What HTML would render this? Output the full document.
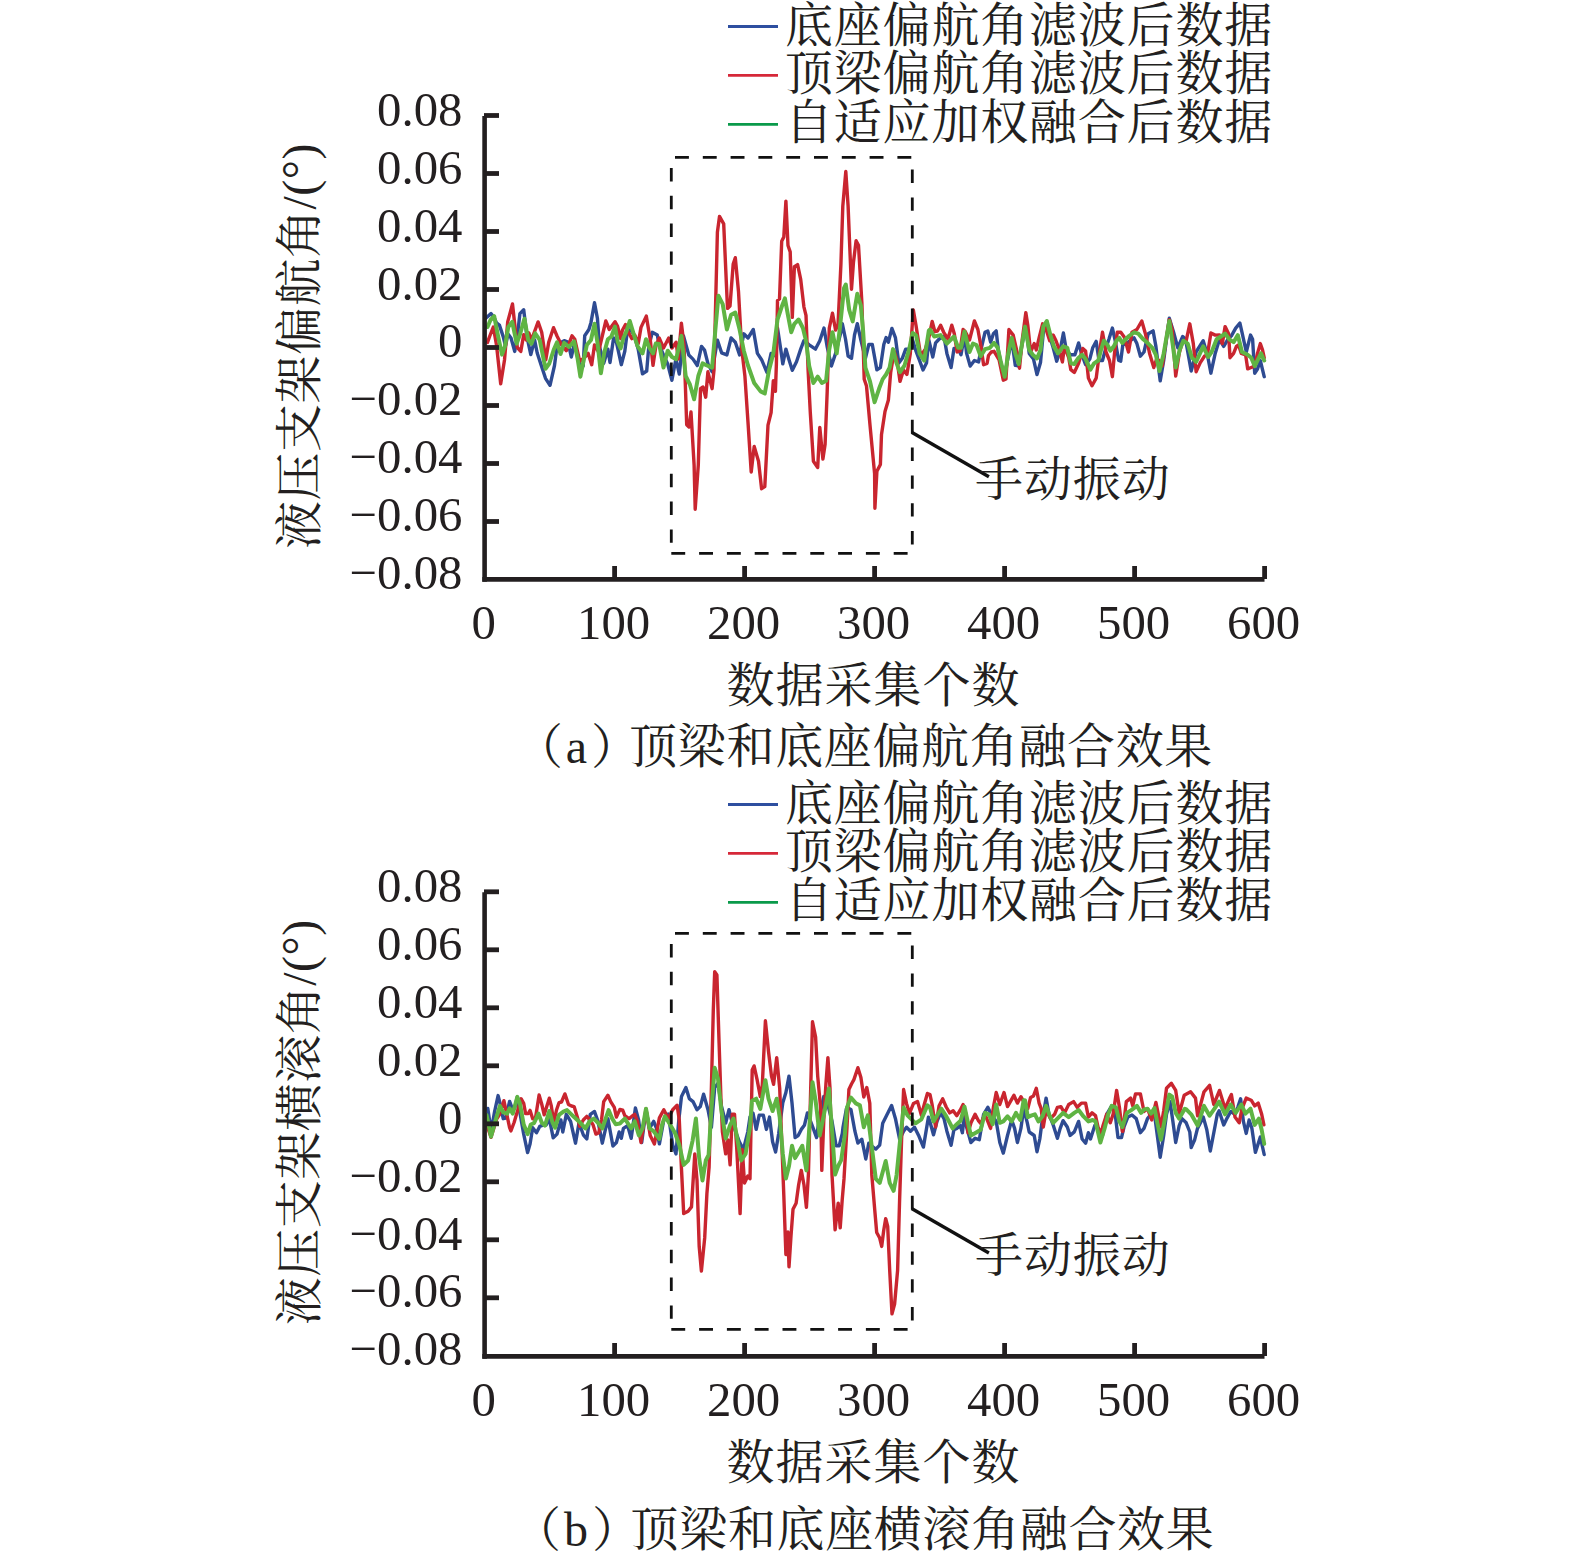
<!DOCTYPE html>
<html><head><meta charset="utf-8"><style>
html,body{margin:0;padding:0;background:#fff;overflow:hidden}
svg{display:block}
.num{font-family:"Liberation Serif", "Noto Serif CJK SC", serif;font-size:48.8px;fill:#231f20}
.cjk{font-family:"Liberation Serif", "Noto Serif CJK SC", serif;font-size:48px;fill:#231f20}
</style></head><body>
<svg width="1575" height="1561" viewBox="0 0 1575 1561">
<rect width="1575" height="1561" fill="#fff"/>
<path d="M486.0 318.0 L491.0 313.6 L494.3 318.0 L496.5 323.0 L499.4 325.1 L503.2 336.6 L505.5 346.0 L508.0 334.0 L511.0 338.0 L514.7 351.4 L517.5 335.0 L519.9 313.6 L523.7 309.7 L527.0 337.0 L530.8 354.6 L534.6 339.8 L537.2 353.0 L541.6 366.4 L545.5 378.3 L550.0 385.3 L554.5 365.5 L556.4 350.7 L560.0 343.0 L564.2 340.7 L568.0 342.0 L571.3 357.0 L574.1 345.0 L577.0 352.0 L580.4 368.0 L583.2 366.0 L584.7 335.8 L588.9 329.5 L591.0 322.4 L594.5 302.7 L597.4 318.2 L599.5 346.4 L603.7 363.3 L607.9 349.2 L610.0 362.6 L613.6 337.9 L616.4 342.2 L621.3 364.7 L624.8 351.3 L627.0 333.7 L630.5 329.5 L634.2 335.1 L638.2 349.2 L642.5 373.9 L646.7 371.0 L648.8 346.4 L652.3 332.3 L657.3 335.1 L659.2 345.0 L663.5 354.9 L667.7 364.0 L671.9 380.3 L675.9 359.0 L679.3 374.0 L683.5 335.9 L688.8 355.0 L693.0 359.1 L697.3 365.5 L701.5 346.4 L704.5 350.0 L707.9 363.4 L712.1 371.8 L717.4 340.1 L721.6 352.8 L726.9 354.9 L731.1 338.0 L735.3 342.2 L739.6 354.9 L743.8 333.8 L748.0 338.0 L753.3 329.5 L757.4 353.4 L761.6 359.7 L766.9 372.4 L771.1 353.4 L774.3 355.5 L777.5 328.0 L780.7 349.1 L782.8 363.9 L785.9 349.1 L789.0 359.7 L792.3 370.3 L796.5 361.8 L800.7 349.1 L803.9 340.7 L809.2 344.9 L815.5 349.1 L819.8 340.7 L824.0 328.0 L827.2 347.0 L831.4 366.0 L835.6 353.4 L840.9 332.2 L842.3 323.7 L845.5 339.0 L848.1 356.0 L851.5 358.3 L854.5 335.0 L857.3 323.7 L860.8 339.9 L865.4 358.3 L868.8 344.5 L872.3 344.5 L876.9 369.9 L880.4 367.6 L883.8 344.5 L886.1 337.6 L888.4 342.2 L891.9 328.4 L895.4 337.6 L898.8 363.0 L902.3 358.3 L905.7 349.1 L909.2 349.1 L912.6 339.9 L916.1 351.4 L919.6 360.6 L923.0 369.9 L926.5 363.0 L928.8 339.9 L930.0 345.0 L932.8 357.0 L935.6 342.9 L939.2 339.0 L944.0 336.5 L946.9 353.4 L951.1 367.5 L954.0 348.5 L958.2 348.5 L961.0 354.8 L964.5 335.1 L966.6 353.4 L970.2 366.1 L974.4 360.5 L978.6 361.9 L981.4 347.8 L985.0 332.3 L987.8 330.9 L990.6 342.2 L993.4 333.7 L996.2 330.9 L998.4 350.6 L1004.0 378.1 L1007.5 360.5 L1011.7 339.3 L1015.3 365.4 L1018.8 366.0 L1021.6 346.4 L1025.8 326.6 L1029.2 353.4 L1033.5 359.1 L1037.0 374.6 L1040.5 362.6 L1043.3 332.3 L1046.8 321.7 L1049.7 336.5 L1053.2 347.8 L1056.7 361.2 L1060.2 349.9 L1063.4 333.0 L1065.9 347.8 L1070.1 354.8 L1074.9 354.8 L1078.6 342.9 L1081.4 353.4 L1085.6 364.7 L1089.8 359.1 L1092.7 347.8 L1096.2 341.4 L1099.0 360.5 L1102.5 360.5 L1105.3 349.9 L1108.9 339.3 L1112.4 328.1 L1115.2 340.7 L1118.7 360.5 L1120.7 361.2 L1122.8 345.0 L1127.0 343.0 L1134.1 337.9 L1136.9 343.6 L1140.4 356.2 L1144.0 352.0 L1148.2 333.7 L1153.1 330.9 L1155.9 346.4 L1160.2 380.9 L1163.7 360.5 L1169.3 318.2 L1173.6 332.3 L1177.8 347.8 L1182.7 336.5 L1185.5 339.3 L1191.2 371.0 L1196.1 352.0 L1203.2 340.7 L1207.4 354.8 L1210.9 373.2 L1215.2 353.4 L1219.5 339.3 L1223.7 346.4 L1227.9 339.3 L1231.4 335.8 L1235.7 328.1 L1239.9 323.1 L1242.0 332.3 L1246.3 352.0 L1250.5 335.1 L1252.6 339.3 L1254.7 373.2 L1257.5 369.0 L1260.3 360.5 L1264.2 376.7" stroke="#2e4b92" stroke-width="3.4" fill="none" stroke-linejoin="round" stroke-linecap="round"/>
<path d="M487.5 342.4 L489.8 336.0 L493.3 327.0 L496.5 345.0 L500.7 383.7 L504.5 360.0 L507.7 321.9 L512.5 304.0 L517.3 347.5 L520.8 351.4 L523.7 334.7 L526.3 340.0 L528.8 332.8 L531.5 340.0 L538.1 321.9 L541.7 332.2 L545.8 359.7 L548.7 342.4 L553.5 327.7 L557.0 336.0 L560.9 343.7 L566.3 350.6 L572.0 335.8 L574.8 339.3 L579.7 361.2 L584.0 358.0 L588.2 353.4 L591.7 364.7 L594.5 345.0 L598.5 352.0 L605.8 321.0 L609.3 329.5 L615.0 321.7 L617.5 326.0 L620.6 338.6 L622.5 330.0 L625.5 324.5 L628.4 332.3 L631.9 338.6 L634.7 335.0 L638.2 343.6 L641.0 327.4 L646.3 316.1 L650.2 339.3 L653.0 365.4 L655.8 346.4 L659.2 338.0 L663.5 348.0 L668.7 338.0 L672.0 348.0 L676.1 342.2 L678.3 359.0 L681.4 323.2 L684.0 345.0 L686.7 424.7 L689.0 427.0 L691.0 412.0 L694.1 464.8 L695.2 509.2 L698.3 464.8 L700.5 388.7 L703.0 387.0 L705.7 397.2 L707.9 371.8 L712.1 388.7 L714.0 370.0 L717.4 232.3 L719.5 216.4 L723.7 223.8 L727.5 308.4 L730.0 306.0 L733.2 264.0 L735.3 257.7 L738.5 291.5 L741.7 348.6 L744.9 376.0 L748.0 422.4 L751.2 472.0 L754.2 446.4 L758.5 461.2 L761.6 488.7 L764.8 486.6 L768.0 425.2 L771.1 412.6 L773.3 380.8 L775.4 391.4 L776.4 363.9 L777.5 300.5 L779.5 299.0 L781.7 241.3 L783.8 237.0 L785.9 201.1 L788.0 245.5 L790.2 251.9 L792.3 317.4 L794.4 266.7 L797.6 264.6 L800.7 279.4 L803.9 306.8 L806.0 315.3 L808.1 370.3 L810.3 412.6 L813.4 461.2 L817.7 467.5 L819.8 427.4 L822.9 459.1 L825.1 444.3 L827.2 391.4 L829.3 328.0 L832.5 313.2 L835.6 330.1 L838.0 325.0 L840.9 264.6 L842.8 206.1 L845.8 171.5 L848.1 206.1 L851.5 289.2 L853.5 262.0 L856.1 240.7 L858.5 245.3 L861.9 303.0 L864.2 379.1 L866.5 386.0 L870.0 425.2 L874.6 473.7 L874.9 508.2 L876.9 471.3 L880.4 464.4 L881.5 434.4 L885.0 411.4 L888.4 399.9 L890.7 372.2 L894.2 351.4 L897.0 360.0 L900.0 381.4 L903.5 370.0 L906.9 374.5 L910.3 353.7 L913.3 309.9 L916.1 326.0 L920.7 356.0 L925.3 349.1 L928.8 338.0 L932.2 321.4 L934.9 331.6 L937.5 331.0 L940.6 325.2 L943.7 332.3 L948.0 339.0 L951.8 325.2 L954.3 333.7 L957.1 352.0 L960.0 351.0 L963.1 329.5 L965.2 331.5 L969.5 340.0 L974.4 321.0 L977.9 329.5 L980.7 345.0 L983.6 364.7 L987.1 363.3 L988.5 355.5 L991.3 352.0 L994.1 351.3 L999.1 359.8 L1003.3 380.2 L1006.0 379.0 L1008.9 329.5 L1013.2 335.1 L1017.4 353.4 L1019.5 368.2 L1022.3 339.3 L1025.8 312.6 L1027.8 325.2 L1030.6 352.0 L1034.2 343.6 L1036.3 349.9 L1039.1 337.9 L1042.6 323.8 L1046.1 329.5 L1049.7 340.7 L1053.2 335.1 L1056.0 340.7 L1058.8 348.5 L1062.4 361.9 L1064.5 346.4 L1068.7 357.7 L1070.8 369.6 L1074.3 372.5 L1078.6 363.3 L1082.8 348.5 L1085.6 351.0 L1088.4 378.1 L1092.0 385.8 L1096.2 378.1 L1099.7 350.6 L1102.5 332.3 L1106.0 352.0 L1109.5 360.5 L1112.4 376.7 L1114.5 353.4 L1117.3 332.3 L1120.8 332.3 L1124.2 337.0 L1128.5 352.0 L1132.0 332.3 L1136.9 329.5 L1141.8 321.0 L1145.4 333.7 L1149.6 353.4 L1153.8 367.5 L1156.6 359.0 L1160.2 361.2 L1162.3 366.0 L1165.1 346.4 L1169.3 319.6 L1172.2 329.5 L1175.7 376.0 L1179.2 353.4 L1182.0 343.6 L1186.2 340.7 L1189.8 323.8 L1193.3 343.6 L1196.1 371.7 L1200.3 362.6 L1204.6 356.0 L1207.4 354.8 L1210.9 333.0 L1215.2 335.1 L1219.5 335.0 L1222.3 343.6 L1225.1 326.6 L1228.6 333.7 L1230.0 357.7 L1233.6 353.4 L1236.4 346.4 L1238.5 345.0 L1241.3 353.4 L1245.6 354.8 L1247.7 368.9 L1251.2 367.5 L1254.7 366.1 L1257.5 353.4 L1260.3 343.6 L1262.5 349.9 L1264.2 357.7" stroke="#c9252f" stroke-width="3.4" fill="none" stroke-linejoin="round" stroke-linecap="round"/>
<path d="M487.5 327.0 L490.5 320.0 L494.2 316.1 L497.5 333.4 L502.0 354.6 L505.0 346.2 L508.3 327.0 L512.2 321.9 L516.7 343.7 L519.9 334.7 L524.4 318.7 L528.2 339.8 L531.4 343.7 L535.2 333.4 L539.7 339.8 L545.5 368.7 L549.3 363.5 L553.8 349.5 L557.0 342.4 L560.5 354.0 L564.2 342.9 L569.0 347.0 L574.1 341.4 L577.5 358.0 L580.4 376.7 L583.5 361.0 L586.8 345.0 L591.0 340.0 L594.5 323.8 L597.5 343.0 L600.9 373.2 L604.4 352.0 L607.9 339.3 L611.4 336.5 L615.0 326.6 L617.8 342.0 L620.6 348.5 L623.4 338.0 L626.3 331.6 L629.8 321.0 L634.0 335.1 L637.5 346.0 L642.5 353.4 L646.0 339.3 L649.5 348.0 L653.0 353.4 L655.8 343.6 L659.2 344.0 L663.5 367.6 L667.7 350.7 L672.0 357.0 L676.1 359.1 L681.4 335.9 L685.7 376.0 L689.9 384.5 L694.1 399.3 L698.3 376.0 L702.6 363.4 L707.0 365.5 L712.1 367.6 L715.3 330.7 L718.4 295.7 L722.7 304.2 L726.9 329.5 L731.1 314.7 L735.3 312.6 L739.6 329.5 L743.8 350.7 L748.0 365.5 L754.2 383.0 L760.6 391.4 L764.8 393.5 L769.0 370.3 L773.3 353.4 L777.5 319.5 L781.7 306.8 L784.9 298.4 L788.0 315.3 L791.2 332.2 L794.4 323.8 L798.6 319.5 L802.9 328.0 L806.0 340.7 L809.2 366.0 L813.4 383.0 L817.7 376.6 L821.9 383.0 L826.1 380.8 L829.3 349.1 L832.5 332.2 L836.7 353.4 L839.9 328.0 L844.1 287.8 L845.8 284.5 L849.2 309.9 L852.7 321.4 L857.3 293.8 L860.8 305.3 L863.1 330.7 L865.4 367.6 L870.0 381.4 L874.6 402.2 L879.2 388.3 L882.7 379.1 L886.1 374.5 L889.6 367.6 L893.0 349.1 L896.5 363.0 L900.0 372.2 L904.6 365.3 L909.2 349.1 L912.6 333.0 L916.1 335.3 L919.6 353.7 L924.2 360.6 L928.8 330.7 L930.0 329.5 L934.2 336.5 L940.6 335.1 L946.9 343.6 L954.0 336.5 L958.2 347.8 L961.0 347.8 L964.5 331.6 L969.5 352.0 L973.0 343.6 L976.5 345.0 L980.7 356.2 L985.0 349.2 L989.9 347.8 L994.1 342.9 L997.7 347.8 L1000.5 360.5 L1004.7 376.7 L1008.2 353.4 L1011.7 337.9 L1015.3 353.4 L1018.8 364.0 L1021.6 346.4 L1025.1 326.6 L1029.2 349.9 L1032.8 354.8 L1037.0 358.4 L1040.5 349.9 L1043.3 326.6 L1046.8 321.0 L1050.4 335.1 L1053.9 346.4 L1058.1 353.4 L1063.1 346.4 L1067.3 347.8 L1070.8 363.3 L1074.3 364.0 L1078.6 357.7 L1082.1 354.8 L1085.6 359.1 L1090.5 369.6 L1094.1 363.3 L1098.3 360.5 L1101.0 350.0 L1103.9 340.7 L1107.5 345.0 L1110.3 350.6 L1113.8 346.4 L1116.6 340.7 L1119.4 337.9 L1122.3 342.9 L1124.2 340.7 L1129.0 336.0 L1134.1 332.3 L1138.3 333.7 L1143.3 339.3 L1148.2 343.6 L1152.4 347.8 L1155.9 355.0 L1159.5 371.0 L1163.7 353.4 L1169.3 321.0 L1172.5 343.0 L1175.7 367.5 L1179.6 350.0 L1183.4 340.7 L1187.7 343.6 L1191.9 357.7 L1196.1 361.9 L1200.0 353.4 L1203.2 346.4 L1208.1 357.0 L1211.6 352.0 L1216.6 339.3 L1220.9 336.5 L1225.1 333.7 L1229.3 339.3 L1233.6 342.2 L1237.8 335.1 L1242.0 352.0 L1247.7 354.8 L1251.2 357.7 L1254.7 366.1 L1257.5 360.5 L1261.0 353.4 L1264.2 360.5" stroke="#5fb443" stroke-width="4.0" fill="none" stroke-linejoin="round" stroke-linecap="round"/>
<path d="M484.6 116 V581.7" stroke="#231f20" stroke-width="4.6" fill="none"/>
<path d="M482.3 579.35 H1264.5" stroke="#231f20" stroke-width="4.6" fill="none"/>
<path d="M484 115.50 H499" stroke="#231f20" stroke-width="4.8"/>
<path d="M484 173.50 H499" stroke="#231f20" stroke-width="4.8"/>
<path d="M484 231.50 H499" stroke="#231f20" stroke-width="4.8"/>
<path d="M484 289.50 H499" stroke="#231f20" stroke-width="4.8"/>
<path d="M484 347.50 H499" stroke="#231f20" stroke-width="4.8"/>
<path d="M484 405.50 H499" stroke="#231f20" stroke-width="4.8"/>
<path d="M484 463.50 H499" stroke="#231f20" stroke-width="4.8"/>
<path d="M484 521.50 H499" stroke="#231f20" stroke-width="4.8"/>
<path d="M614.60 579 V566" stroke="#231f20" stroke-width="4.8"/>
<path d="M744.60 579 V566" stroke="#231f20" stroke-width="4.8"/>
<path d="M874.60 579 V566" stroke="#231f20" stroke-width="4.8"/>
<path d="M1004.60 579 V566" stroke="#231f20" stroke-width="4.8"/>
<path d="M1134.60 579 V566" stroke="#231f20" stroke-width="4.8"/>
<path d="M1264.60 579 V566" stroke="#231f20" stroke-width="4.8"/>
<text x="462.5" y="125.80" text-anchor="end" class="num">0.08</text>
<text x="462.5" y="183.70" text-anchor="end" class="num">0.06</text>
<text x="462.5" y="241.60" text-anchor="end" class="num">0.04</text>
<text x="462.5" y="299.50" text-anchor="end" class="num">0.02</text>
<text x="462.5" y="357.40" text-anchor="end" class="num">0</text>
<text x="462.5" y="415.30" text-anchor="end" class="num">−0.02</text>
<text x="462.5" y="473.20" text-anchor="end" class="num">−0.04</text>
<text x="462.5" y="531.10" text-anchor="end" class="num">−0.06</text>
<text x="462.5" y="589.00" text-anchor="end" class="num">−0.08</text>
<text x="483.60" y="639.20" text-anchor="middle" class="num">0</text>
<text x="613.60" y="639.20" text-anchor="middle" class="num">100</text>
<text x="743.60" y="639.20" text-anchor="middle" class="num">200</text>
<text x="873.60" y="639.20" text-anchor="middle" class="num">300</text>
<text x="1003.60" y="639.20" text-anchor="middle" class="num">400</text>
<text x="1133.60" y="639.20" text-anchor="middle" class="num">500</text>
<text x="1263.60" y="639.20" text-anchor="middle" class="num">600</text>
<text transform="translate(316 346) rotate(-90)" text-anchor="middle" class="cjk" letter-spacing="0.5">液压支架偏航角/(°)</text>
<text x="873.6" y="701.5" text-anchor="middle" class="cjk" letter-spacing="1.0">数据采集个数</text>
<text y="763.4" class="cjk" letter-spacing="0.65"><tspan x="515">（</tspan><tspan x="565.7">a</tspan><tspan x="591">）</tspan><tspan x="629.2">顶梁和底座偏航角融合效果</tspan></text>
<path d="M675 157.30 H912" stroke="#111" stroke-width="2.8" stroke-dasharray="13.9 13.9" fill="none"/>
<path d="M671.3 553.30 H908" stroke="#111" stroke-width="2.8" stroke-dasharray="13.9 13.9" fill="none"/>
<path d="M671.3 168.00 V543.00" stroke="#111" stroke-width="2.8" stroke-dasharray="13.4 14.4" fill="none"/>
<path d="M912.3 169.60 V545.00" stroke="#111" stroke-width="2.8" stroke-dasharray="13.4 14.4" fill="none"/>
<path d="M911.6 432.2 L988.9 476.7" stroke="#111" stroke-width="3.4" fill="none"/>
<text x="975" y="496" class="cjk" letter-spacing="0.9">手动振动</text>
<path d="M728 26.50 H778" stroke="#2e4fa0" stroke-width="2.8"/>
<text x="785" y="41.50" class="cjk" letter-spacing="0.8">底座偏航角滤波后数据</text>
<path d="M728 75.40 H778" stroke="#d62839" stroke-width="2.8"/>
<text x="785" y="90.40" class="cjk" letter-spacing="0.8">顶梁偏航角滤波后数据</text>
<path d="M728 124.30 H778" stroke="#0a9a4a" stroke-width="2.8"/>
<text x="785" y="139.30" class="cjk" letter-spacing="0.8">自适应加权融合后数据</text>
<path d="M487.8 1108.4 L489.5 1120.0 L491.0 1132.0 L494.5 1112.0 L498.1 1095.6 L500.7 1105.9 L503.2 1118.7 L505.8 1118.0 L509.6 1101.4 L512.2 1108.4 L514.7 1108.4 L517.3 1096.9 L519.8 1112.0 L523.7 1134.1 L527.6 1152.6 L530.1 1143.7 L532.7 1127.7 L536.5 1132.8 L539.7 1126.4 L543.0 1125.1 L546.1 1125.1 L549.3 1118.7 L553.2 1137.9 L557.0 1134.1 L560.9 1120.0 L562.8 1132.0 L566.3 1114.3 L570.6 1121.4 L575.5 1143.2 L579.0 1122.8 L583.3 1134.8 L586.8 1139.0 L590.3 1114.3 L594.5 1111.5 L598.0 1121.4 L602.3 1143.2 L607.9 1118.6 L612.9 1146.0 L616.4 1142.5 L619.2 1132.0 L621.3 1138.3 L623.4 1128.4 L627.6 1125.6 L631.2 1138.3 L635.4 1108.0 L638.6 1120.0 L641.7 1142.5 L646.0 1110.1 L649.5 1128.4 L653.7 1121.4 L656.5 1128.4 L659.4 1143.9 L663.8 1120.0 L668.3 1114.0 L672.7 1145.0 L676.0 1153.9 L678.8 1120.0 L681.5 1096.4 L685.9 1087.6 L689.3 1098.6 L693.0 1101.6 L697.0 1109.7 L700.3 1106.6 L703.6 1094.2 L708.0 1109.7 L711.4 1127.4 L714.7 1087.6 L718.0 1083.2 L721.3 1105.3 L725.7 1123.0 L729.0 1109.7 L732.3 1123.0 L735.7 1131.8 L739.5 1142.0 L743.4 1149.5 L747.8 1131.8 L750.0 1117.1 L753.0 1113.0 L756.2 1129.4 L759.2 1115.1 L763.3 1115.1 L766.4 1129.4 L769.5 1117.1 L772.6 1141.7 L775.6 1152.0 L778.7 1133.5 L782.8 1102.8 L785.9 1092.5 L789.0 1076.1 L792.0 1103.0 L795.1 1137.6 L798.2 1135.6 L801.3 1129.4 L804.4 1125.3 L807.4 1113.0 L810.5 1121.2 L813.6 1129.4 L816.6 1137.6 L819.7 1115.1 L823.8 1096.6 L827.9 1104.8 L832.0 1121.2 L836.1 1145.8 L839.2 1145.8 L842.3 1133.5 L843.0 1127.2 L846.4 1108.9 L847.0 1107.4 L850.9 1109.4 L854.9 1131.2 L857.9 1143.1 L861.8 1139.2 L865.8 1159.0 L868.8 1143.1 L872.8 1147.0 L875.8 1149.1 L879.7 1145.1 L882.7 1123.3 L886.7 1115.3 L891.6 1105.4 L895.6 1119.3 L899.6 1139.2 L903.6 1131.2 L906.5 1127.2 L910.5 1131.2 L914.5 1127.2 L918.5 1135.2 L923.4 1147.1 L928.4 1117.3 L930.0 1122.0 L933.5 1134.8 L937.0 1121.4 L940.6 1112.9 L944.0 1118.6 L946.9 1131.2 L951.1 1145.3 L953.9 1129.8 L956.8 1128.4 L960.3 1125.6 L962.4 1132.7 L964.5 1112.9 L966.6 1127.0 L970.9 1142.5 L975.1 1138.3 L979.3 1139.7 L983.6 1114.3 L987.8 1107.3 L991.3 1114.3 L996.2 1121.4 L999.8 1142.5 L1003.3 1153.1 L1007.5 1135.5 L1011.7 1120.0 L1014.6 1128.4 L1017.4 1142.5 L1020.9 1128.4 L1023.7 1108.7 L1027.3 1122.8 L1029.2 1132.0 L1034.2 1135.5 L1037.0 1151.7 L1039.8 1139.0 L1041.9 1122.8 L1046.1 1098.1 L1049.0 1114.3 L1053.2 1124.9 L1057.4 1138.3 L1060.2 1128.4 L1063.1 1120.7 L1067.3 1127.0 L1070.1 1135.5 L1074.3 1131.9 L1078.6 1121.4 L1082.1 1139.0 L1085.6 1143.2 L1088.4 1132.7 L1090.5 1139.0 L1094.8 1125.6 L1098.3 1128.4 L1102.5 1135.5 L1106.7 1114.3 L1111.7 1105.9 L1115.2 1114.3 L1118.0 1137.6 L1121.5 1137.6 L1124.0 1127.0 L1127.8 1117.1 L1132.0 1115.0 L1136.2 1118.6 L1140.4 1132.7 L1144.0 1128.4 L1147.5 1118.6 L1151.0 1114.3 L1154.5 1114.3 L1157.3 1135.5 L1160.2 1157.3 L1163.7 1135.5 L1166.5 1114.3 L1170.0 1101.6 L1172.9 1121.4 L1175.7 1142.5 L1179.2 1125.6 L1182.0 1118.6 L1186.2 1122.8 L1189.8 1132.0 L1191.2 1147.5 L1194.7 1139.7 L1197.5 1128.4 L1203.3 1117.1 L1206.8 1129.8 L1210.3 1151.0 L1213.8 1132.7 L1217.3 1114.3 L1219.1 1110.8 L1223.7 1124.9 L1227.2 1117.8 L1230.7 1111.5 L1235.0 1114.3 L1237.8 1107.3 L1240.6 1098.8 L1243.4 1121.4 L1246.2 1133.4 L1249.1 1120.0 L1251.9 1128.4 L1255.4 1152.4 L1260.3 1136.9 L1264.2 1154.5" stroke="#2e4b92" stroke-width="3.4" fill="none" stroke-linejoin="round" stroke-linecap="round"/>
<path d="M486.0 1120.0 L488.5 1130.0 L491.0 1137.3 L496.8 1118.7 L499.4 1114.8 L503.9 1100.7 L505.8 1109.7 L509.6 1127.7 L510.9 1130.9 L514.1 1122.5 L516.0 1116.1 L521.2 1098.8 L523.7 1103.3 L525.6 1113.6 L528.2 1113.6 L530.1 1110.4 L532.7 1118.7 L535.5 1118.0 L539.1 1095.0 L541.7 1104.0 L544.2 1114.8 L549.3 1098.2 L551.3 1105.9 L553.8 1122.5 L556.5 1110.0 L559.0 1102.7 L561.5 1102.0 L564.9 1093.9 L568.5 1104.5 L571.5 1106.0 L574.1 1106.6 L577.6 1117.9 L579.7 1126.3 L583.3 1120.0 L586.8 1116.4 L590.0 1120.0 L593.1 1124.9 L595.9 1134.1 L598.8 1132.7 L601.5 1120.0 L603.7 1101.6 L607.9 1095.3 L610.7 1101.6 L614.3 1107.3 L616.4 1117.1 L619.9 1109.4 L622.7 1110.1 L624.8 1115.7 L629.1 1118.6 L632.6 1115.7 L634.7 1114.3 L637.5 1121.4 L641.0 1142.5 L646.0 1108.7 L650.2 1135.5 L654.4 1143.9 L659.4 1117.9 L663.8 1109.7 L668.3 1118.5 L672.7 1109.7 L677.1 1105.3 L679.3 1120.0 L681.5 1169.4 L683.7 1213.6 L688.1 1211.3 L691.5 1206.9 L694.8 1153.9 L697.0 1180.0 L699.2 1246.7 L701.4 1271.0 L704.7 1237.9 L706.9 1193.7 L709.1 1167.2 L711.4 1087.6 L713.3 1010.0 L714.7 971.6 L716.9 974.9 L719.1 1043.4 L721.0 1100.0 L722.4 1131.8 L725.7 1153.9 L727.9 1140.0 L730.1 1164.9 L732.3 1114.1 L734.5 1114.1 L736.8 1149.5 L740.1 1213.6 L742.3 1149.5 L744.5 1183.0 L747.8 1176.0 L750.0 1178.6 L752.2 1069.9 L754.1 1065.9 L757.2 1080.2 L760.3 1096.6 L762.3 1085.0 L765.4 1020.8 L768.5 1051.5 L771.5 1076.1 L773.6 1084.3 L776.7 1057.7 L779.7 1088.4 L781.7 1140.0 L783.8 1195.0 L785.9 1254.5 L787.9 1231.9 L789.0 1266.8 L791.0 1236.0 L793.0 1209.3 L796.1 1203.2 L798.6 1185.0 L801.3 1170.4 L804.0 1185.0 L806.4 1207.3 L808.4 1174.5 L810.4 1100.0 L812.5 1021.8 L815.6 1037.2 L817.7 1076.1 L820.7 1108.9 L821.8 1170.4 L823.8 1120.0 L825.9 1084.3 L827.9 1057.7 L830.0 1088.0 L832.0 1174.5 L835.1 1229.8 L838.2 1203.2 L840.2 1227.8 L842.2 1200.0 L844.0 1178.9 L847.0 1127.2 L848.9 1089.5 L851.5 1084.0 L853.9 1079.6 L857.9 1067.7 L860.9 1077.6 L863.8 1097.0 L866.8 1087.5 L869.8 1103.4 L871.8 1174.9 L874.8 1210.7 L876.7 1232.5 L879.7 1238.0 L881.7 1246.4 L883.7 1230.5 L885.7 1218.6 L887.7 1226.5 L889.7 1270.3 L892.0 1313.9 L894.6 1304.0 L897.6 1270.3 L899.6 1200.0 L901.6 1139.2 L903.6 1089.5 L906.5 1103.4 L909.5 1113.3 L913.5 1103.4 L917.5 1101.4 L921.4 1115.3 L924.4 1104.0 L927.4 1093.5 L930.0 1094.6 L932.0 1104.0 L935.6 1127.0 L939.1 1105.7 L942.7 1098.8 L946.2 1107.0 L949.7 1112.9 L953.2 1110.8 L956.8 1115.7 L960.3 1110.0 L963.1 1104.5 L965.9 1114.0 L968.1 1132.7 L971.0 1122.8 L975.1 1114.3 L978.6 1121.0 L980.7 1123.5 L985.0 1114.3 L990.6 1128.4 L993.4 1107.3 L996.2 1092.5 L999.8 1104.5 L1004.0 1092.5 L1007.5 1106.6 L1013.9 1095.3 L1017.4 1103.1 L1020.9 1096.7 L1023.7 1101.6 L1027.3 1107.3 L1027.8 1108.7 L1030.6 1097.4 L1033.5 1095.9 L1036.3 1088.3 L1039.1 1103.1 L1041.2 1108.7 L1043.3 1127.0 L1046.1 1110.1 L1050.4 1118.6 L1054.6 1114.3 L1057.4 1107.3 L1060.9 1106.6 L1064.5 1113.0 L1068.7 1104.5 L1073.6 1101.6 L1077.2 1107.3 L1081.4 1103.1 L1085.6 1103.1 L1088.4 1117.1 L1092.0 1112.9 L1095.5 1115.7 L1098.3 1128.4 L1101.1 1132.7 L1103.2 1125.0 L1106.7 1114.3 L1110.3 1122.8 L1113.1 1114.3 L1116.6 1090.4 L1119.4 1107.3 L1122.3 1131.2 L1122.8 1131.2 L1126.3 1101.6 L1130.6 1098.1 L1132.7 1105.9 L1135.5 1093.9 L1140.4 1093.9 L1144.0 1111.5 L1147.5 1108.7 L1151.7 1120.0 L1155.9 1102.4 L1160.9 1127.0 L1163.7 1110.8 L1166.5 1088.3 L1171.4 1083.3 L1175.7 1090.4 L1179.2 1113.6 L1184.2 1095.3 L1190.6 1091.8 L1195.5 1098.1 L1197.6 1115.7 L1204.0 1091.8 L1209.6 1085.4 L1213.8 1104.5 L1219.5 1090.4 L1225.1 1108.7 L1229.3 1098.8 L1231.4 1094.6 L1235.0 1117.1 L1239.2 1122.8 L1242.0 1108.7 L1246.2 1098.1 L1251.2 1100.2 L1254.7 1105.9 L1258.2 1103.1 L1261.7 1114.3 L1263.9 1124.9" stroke="#c9252f" stroke-width="3.4" fill="none" stroke-linejoin="round" stroke-linecap="round"/>
<path d="M486.5 1115.0 L488.7 1125.0 L491.0 1136.6 L494.0 1126.0 L496.8 1116.1 L500.0 1105.9 L503.2 1112.3 L507.1 1113.6 L509.6 1108.4 L512.8 1113.6 L517.3 1096.9 L519.9 1103.3 L523.7 1124.5 L527.6 1134.1 L530.8 1124.5 L534.0 1123.2 L538.5 1113.6 L541.7 1122.5 L544.9 1125.7 L549.3 1111.0 L552.5 1122.5 L555.1 1127.7 L559.0 1114.8 L563.4 1111.6 L567.0 1110.1 L570.6 1113.6 L574.1 1117.1 L577.3 1120.0 L580.4 1122.8 L585.4 1128.4 L589.6 1121.4 L593.8 1118.6 L598.0 1122.8 L602.3 1128.4 L608.6 1110.1 L612.2 1118.6 L615.7 1124.2 L619.9 1123.5 L624.8 1118.6 L627.6 1122.8 L631.2 1128.4 L634.7 1121.4 L638.9 1135.5 L642.5 1128.4 L646.0 1108.7 L649.5 1128.4 L653.7 1131.2 L659.4 1139.0 L662.0 1125.0 L664.9 1116.3 L670.5 1125.2 L675.0 1133.0 L679.3 1145.0 L683.7 1164.9 L688.1 1160.5 L692.6 1140.6 L695.9 1118.5 L699.2 1158.3 L702.5 1180.4 L705.8 1160.5 L708.6 1155.0 L711.4 1109.7 L714.7 1067.7 L718.0 1078.8 L721.3 1109.7 L725.7 1138.4 L730.1 1125.2 L733.5 1118.5 L736.8 1136.2 L741.2 1160.5 L745.6 1153.9 L750.0 1127.4 L752.0 1100.7 L756.2 1098.7 L760.3 1108.9 L765.4 1080.2 L768.5 1098.7 L772.6 1111.0 L776.7 1098.7 L779.7 1117.1 L782.8 1154.0 L785.9 1178.6 L789.0 1166.0 L792.0 1145.8 L795.1 1158.1 L798.7 1152.0 L802.3 1145.8 L806.4 1170.4 L809.5 1125.0 L812.5 1082.2 L815.6 1100.7 L819.7 1135.6 L822.8 1120.0 L825.9 1104.8 L828.9 1088.4 L832.0 1130.0 L835.1 1174.5 L838.2 1166.0 L841.2 1160.2 L844.8 1135.0 L847.0 1107.4 L850.9 1097.5 L855.9 1103.4 L859.9 1105.4 L863.8 1127.2 L867.8 1115.3 L871.8 1147.1 L875.8 1178.9 L879.7 1182.9 L882.7 1172.0 L885.7 1161.0 L889.7 1182.9 L893.6 1190.8 L896.6 1175.0 L899.6 1145.1 L903.6 1107.4 L907.5 1115.3 L911.5 1119.3 L915.5 1123.3 L921.4 1119.3 L927.4 1105.4 L930.0 1107.3 L933.5 1121.4 L937.4 1115.0 L941.3 1108.7 L945.5 1115.0 L949.7 1122.8 L952.6 1128.4 L956.8 1124.2 L960.6 1120.7 L964.5 1106.6 L967.7 1121.4 L970.9 1135.5 L975.8 1132.7 L980.7 1129.8 L985.0 1112.9 L989.0 1114.3 L992.7 1124.2 L996.2 1104.5 L999.8 1122.8 L1003.3 1121.4 L1007.5 1116.4 L1011.7 1121.4 L1016.0 1112.9 L1020.2 1120.0 L1023.7 1100.2 L1025.0 1100.2 L1027.8 1117.1 L1031.0 1115.7 L1034.9 1114.3 L1038.4 1121.4 L1042.6 1116.0 L1046.1 1105.9 L1049.6 1115.7 L1053.2 1122.8 L1057.4 1118.6 L1063.1 1112.9 L1068.7 1117.1 L1074.3 1112.9 L1078.6 1110.1 L1083.5 1116.4 L1088.4 1121.4 L1092.7 1120.0 L1095.5 1121.4 L1100.4 1142.5 L1104.6 1128.4 L1108.2 1114.3 L1111.7 1105.9 L1115.9 1107.3 L1119.4 1121.4 L1122.3 1127.0 L1127.0 1112.9 L1131.3 1110.1 L1136.9 1105.9 L1141.1 1112.9 L1144.3 1109.4 L1147.5 1108.7 L1151.0 1113.6 L1154.5 1108.0 L1157.3 1122.8 L1160.9 1139.7 L1164.4 1121.4 L1169.3 1094.6 L1172.2 1096.7 L1175.7 1112.9 L1179.2 1118.6 L1184.8 1108.7 L1186.3 1109.4 L1191.2 1114.3 L1197.6 1125.6 L1204.0 1105.9 L1209.6 1115.7 L1214.5 1108.7 L1219.1 1101.6 L1225.1 1114.3 L1230.7 1104.5 L1235.7 1112.9 L1241.3 1104.5 L1245.5 1113.6 L1250.5 1108.7 L1254.7 1124.9 L1258.9 1118.6 L1261.7 1130.0 L1264.2 1143.9" stroke="#5fb443" stroke-width="4.0" fill="none" stroke-linejoin="round" stroke-linecap="round"/>
<path d="M484.6 892.3 V1358.7" stroke="#231f20" stroke-width="4.6" fill="none"/>
<path d="M482.3 1356.35 H1264.5" stroke="#231f20" stroke-width="4.6" fill="none"/>
<path d="M484 891.80 H499" stroke="#231f20" stroke-width="4.8"/>
<path d="M484 949.80 H499" stroke="#231f20" stroke-width="4.8"/>
<path d="M484 1007.80 H499" stroke="#231f20" stroke-width="4.8"/>
<path d="M484 1065.80 H499" stroke="#231f20" stroke-width="4.8"/>
<path d="M484 1123.80 H499" stroke="#231f20" stroke-width="4.8"/>
<path d="M484 1181.80 H499" stroke="#231f20" stroke-width="4.8"/>
<path d="M484 1239.80 H499" stroke="#231f20" stroke-width="4.8"/>
<path d="M484 1297.80 H499" stroke="#231f20" stroke-width="4.8"/>
<path d="M614.60 1356 V1343" stroke="#231f20" stroke-width="4.8"/>
<path d="M744.60 1356 V1343" stroke="#231f20" stroke-width="4.8"/>
<path d="M874.60 1356 V1343" stroke="#231f20" stroke-width="4.8"/>
<path d="M1004.60 1356 V1343" stroke="#231f20" stroke-width="4.8"/>
<path d="M1134.60 1356 V1343" stroke="#231f20" stroke-width="4.8"/>
<path d="M1264.60 1356 V1343" stroke="#231f20" stroke-width="4.8"/>
<text x="462.5" y="902.10" text-anchor="end" class="num">0.08</text>
<text x="462.5" y="960.00" text-anchor="end" class="num">0.06</text>
<text x="462.5" y="1017.90" text-anchor="end" class="num">0.04</text>
<text x="462.5" y="1075.80" text-anchor="end" class="num">0.02</text>
<text x="462.5" y="1133.70" text-anchor="end" class="num">0</text>
<text x="462.5" y="1191.60" text-anchor="end" class="num">−0.02</text>
<text x="462.5" y="1249.50" text-anchor="end" class="num">−0.04</text>
<text x="462.5" y="1307.40" text-anchor="end" class="num">−0.06</text>
<text x="462.5" y="1365.30" text-anchor="end" class="num">−0.08</text>
<text x="483.60" y="1416.20" text-anchor="middle" class="num">0</text>
<text x="613.60" y="1416.20" text-anchor="middle" class="num">100</text>
<text x="743.60" y="1416.20" text-anchor="middle" class="num">200</text>
<text x="873.60" y="1416.20" text-anchor="middle" class="num">300</text>
<text x="1003.60" y="1416.20" text-anchor="middle" class="num">400</text>
<text x="1133.60" y="1416.20" text-anchor="middle" class="num">500</text>
<text x="1263.60" y="1416.20" text-anchor="middle" class="num">600</text>
<text transform="translate(316 1122.3) rotate(-90)" text-anchor="middle" class="cjk" letter-spacing="0.5">液压支架横滚角/(°)</text>
<text x="873.6" y="1478.5" text-anchor="middle" class="cjk" letter-spacing="1.0">数据采集个数</text>
<text y="1546.4" class="cjk" letter-spacing="0.65"><tspan x="513">（</tspan><tspan x="564">b</tspan><tspan x="592">）</tspan><tspan x="630.6">顶梁和底座横滚角融合效果</tspan></text>
<path d="M675 933.30 H912" stroke="#111" stroke-width="2.8" stroke-dasharray="13.9 13.9" fill="none"/>
<path d="M671.3 1329.30 H908" stroke="#111" stroke-width="2.8" stroke-dasharray="13.9 13.9" fill="none"/>
<path d="M671.3 944.00 V1319.00" stroke="#111" stroke-width="2.8" stroke-dasharray="13.4 14.4" fill="none"/>
<path d="M912.3 945.60 V1321.00" stroke="#111" stroke-width="2.8" stroke-dasharray="13.4 14.4" fill="none"/>
<path d="M911.6 1208.5 L988.9 1253.0" stroke="#111" stroke-width="3.4" fill="none"/>
<text x="975" y="1272.3" class="cjk" letter-spacing="0.9">手动振动</text>
<path d="M728 804.50 H778" stroke="#2e4fa0" stroke-width="2.8"/>
<text x="785" y="819.50" class="cjk" letter-spacing="0.8">底座偏航角滤波后数据</text>
<path d="M728 853.40 H778" stroke="#d62839" stroke-width="2.8"/>
<text x="785" y="868.40" class="cjk" letter-spacing="0.8">顶梁偏航角滤波后数据</text>
<path d="M728 902.30 H778" stroke="#0a9a4a" stroke-width="2.8"/>
<text x="785" y="917.30" class="cjk" letter-spacing="0.8">自适应加权融合后数据</text>
</svg>
</body></html>
